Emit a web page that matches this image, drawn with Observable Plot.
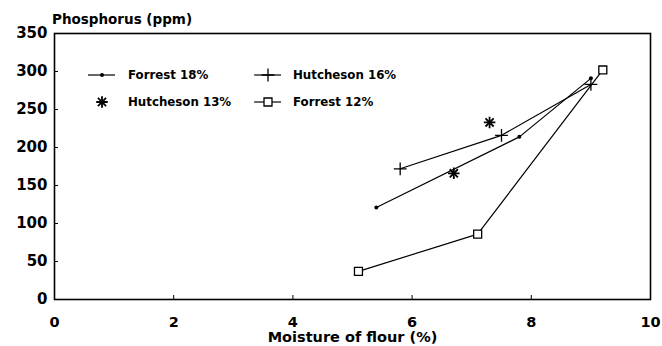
<!DOCTYPE html>
<html><head><meta charset="utf-8">
<script src="https://cdn.jsdelivr.net/npm/d3@7"></script>
<script src="https://cdn.jsdelivr.net/npm/@observablehq/plot@0.6"></script>
<style>
body{margin:0;background:#fff;}
#wrap{position:relative;width:662px;height:346px;}
#title{position:absolute;left:52px;top:13px;font:bold 13.5px "DejaVu Sans";line-height:13px;color:#000;}
#legend{position:absolute;left:0;top:0;}
</style></head><body>
<div id="wrap"><div id="chart"></div><div id="title">Phosphorus (ppm)</div><svg id="legend" width="662" height="346"></svg></div>
<script>
// ---- data ----
const seriesNames = ["Forrest 18%", "Hutcheson 16%", "Hutcheson 13%", "Forrest 12%"];
const forrest18X = [5.4, 7.8, 9.0];
const forrest18Y = [121, 214, 291];
const hutch16X = [5.8, 7.5, 9.0];
const hutch16Y = [172, 216, 283];
const hutch13X = [6.7, 7.3];
const hutch13Y = [166, 233];
const forrest12X = [5.1, 7.1, 9.2];
const forrest12Y = [37, 86, 302];
const xTicks = [0, 2, 4, 6, 8, 10];
const yTicks = [0, 50, 100, 150, 200, 250, 300, 350];
const xLabel = "Moisture of flour (%)";

const rows = (xs, ys, name) => xs.map((x, i) => ({x, y: ys[i], name}));
const f18 = rows(forrest18X, forrest18Y, seriesNames[0]);
const h16 = rows(hutch16X, hutch16Y, seriesNames[1]);
const h13 = rows(hutch13X, hutch13Y, seriesNames[2]);
const f12 = rows(forrest12X, forrest12Y, seriesNames[3]);

const lineStyle = {stroke: "#000", strokeWidth: 1.2};
const chart = Plot.plot({
  width: 662, height: 346,
  marginLeft: 54, marginRight: 12, marginTop: 33, marginBottom: 47,
  x: {domain: [0, 10]},
  y: {domain: [0, 350]},
  style: {fontFamily: "DejaVu Sans", fontWeight: "bold", fontSize: "14px", color: "#000", background: "#fff"},
  marks: [
    Plot.axisX({ticks: xTicks, tickSize: -4, tickPadding: 21, fontSize: 14.5, label: xLabel, labelAnchor: "center", labelArrow: "none", labelOffset: 42, fontSize: 14.5}),
    Plot.axisY({ticks: yTicks, tickSize: -4, tickPadding: 11, fontSize: 15, label: null}),
    Plot.frame({stroke: "#000", strokeWidth: 1.6}),
    Plot.line(f18, {x: "x", y: "y", ...lineStyle}),
    Plot.line(h16, {x: "x", y: "y", ...lineStyle}),
    Plot.line(f12, {x: "x", y: "y", ...lineStyle}),
    Plot.dot(f18, {x: "x", y: "y", r: 2, fill: "#000", stroke: null}),
    Plot.dot(h16, {x: "x", y: "y", symbol: "plus", r: 4.2, stroke: "#000", strokeWidth: 1.3}),
    Plot.dot(h13, {x: "x", y: "y", symbol: "plus", r: 3.8, stroke: "#000", strokeWidth: 1.8}),
    Plot.dot(h13, {x: "x", y: "y", symbol: "times", r: 3.8, stroke: "#000", strokeWidth: 1.8}),
    Plot.dot(f12, {x: "x", y: "y", symbol: "square", r: 4.5, fill: "#fff", stroke: "#000", strokeWidth: 1.3})
  ]
});
document.getElementById("chart").append(chart);

// ---- legend inside the plot area ----
const legendItems = [
  {name: seriesNames[0], syms: [{type: d3.symbolCircle, r: 2, fill: true}], line: true, col: 0, row: 0},
  {name: seriesNames[1], syms: [{type: d3.symbolPlus, r: 4.2, sw: 1.3}], line: true, col: 1, row: 0},
  {name: seriesNames[2], syms: [{type: d3.symbolPlus, r: 3.8, sw: 1.8}, {type: d3.symbolTimes, r: 3.8, sw: 1.8}], line: false, col: 0, row: 1},
  {name: seriesNames[3], syms: [{type: d3.symbolSquare, r: 4.5, sw: 1.3, white: true}], line: true, col: 1, row: 1}
];
const colX = [102, 268], colText = [128, 293], rowY = [75, 102];
const lg = d3.select("#legend");
for (const it of legendItems) {
  const cx = colX[it.col], cy = rowY[it.row];
  if (it.line) lg.append("line").attr("x1", cx - 14).attr("x2", cx + 13).attr("y1", cy).attr("y2", cy).attr("stroke", "#000").attr("stroke-width", 1.2);
  for (const s of it.syms) {
    lg.append("path").attr("transform", `translate(${cx},${cy})`)
      .attr("d", d3.symbol(s.type, Math.PI * s.r * s.r)())
      .attr("fill", s.fill ? "#000" : (s.white ? "#fff" : "none"))
      .attr("stroke", s.fill ? "none" : "#000").attr("stroke-width", s.sw || 1);
  }
  lg.append("text").attr("x", colText[it.col]).attr("y", cy + 4.3)
    .attr("font-family", "DejaVu Sans").attr("font-weight", "bold").attr("font-size", 11.8)
    .text(it.name);
}
</script>
</body></html>
